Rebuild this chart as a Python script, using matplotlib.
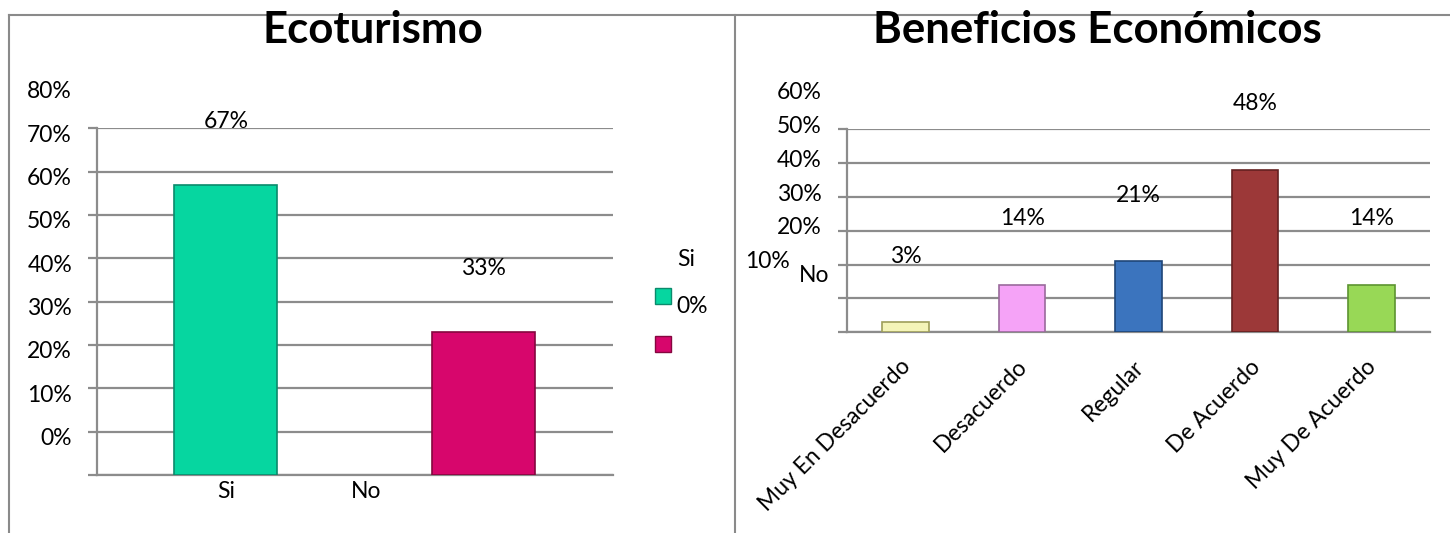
import matplotlib
matplotlib.use("Agg")
import matplotlib.pyplot as plt
import matplotlib.transforms as mtransforms
from matplotlib.patches import Rectangle
from matplotlib.lines import Line2D

# ---------------- data ----------------
eco_title = "Ecoturismo"
eco_categories = ["Si", "No"]
eco_values = [0.67, 0.33]
eco_value_labels = ["67%", "33%"]
eco_ytick_labels = ["0%", "10%", "20%", "30%", "40%", "50%", "60%", "70%", "80%"]
eco_colors = ["#06D6A0", "#D7066C"]
eco_edges = ["#0B8A6C", "#85073F"]

ben_title = "Beneficios Económicos"
ben_categories = ["Muy En Desacuerdo", "Desacuerdo", "Regular", "De Acuerdo", "Muy De Acuerdo"]
ben_values = [0.03, 0.14, 0.21, 0.48, 0.14]
ben_value_labels = ["3%", "14%", "21%", "48%", "14%"]
ben_ytick_labels = ["10%", "20%", "30%", "40%", "50%", "60%"]
ben_colors = ["#F4F4B8", "#F5A3F7", "#3B74BE", "#9C3838", "#98D856"]
ben_edges = ["#9E9E5A", "#9A6A9C", "#1F4678", "#642020", "#5C9430"]

legend_labels = ["Si", "No", "0%"]

# ---------------- layout ----------------
W, H, DPI = 1450, 533, 100
FONT = "Lato"
GRID = "#8C8C8C"
FS = 16.5
TFS = 31.5

plt.rcParams["font.family"] = [FONT, "DejaVu Sans"]

fig = plt.figure(figsize=(W / DPI, H / DPI), dpi=DPI)


def fx(x):
    return x / W


def fy(y):
    return 1 - y / H


def style_axes(ax, ymax):
    ax.set_ylim(0, ymax)
    ax.set_yticks([i / 10 for i in range(int(round(ymax * 10)) + 1)])
    ax.set_yticklabels([])
    ax.yaxis.grid(True, color=GRID, linewidth=1.6)
    ax.set_axisbelow(True)
    for s in ["top", "right"]:
        ax.spines[s].set_visible(False)
    for s in ["left", "bottom"]:
        ax.spines[s].set_color(GRID)
        ax.spines[s].set_linewidth(1.6)
    ax.tick_params(axis="y", length=6.5, width=1.6, color=GRID, direction="out")
    ax.tick_params(axis="x", length=0)


# ---------- left chart ----------
ax1 = fig.add_axes([fx(97), fy(475), fx(612.7 - 97), (475 - 128.3) / H])
style_axes(ax1, 0.8)
ax1.set_xlim(-0.5, len(eco_categories) - 0.5)
x1 = list(range(len(eco_categories)))
ax1.bar(x1, eco_values, width=0.40, color=eco_colors, edgecolor=eco_edges,
        linewidth=1.2, zorder=3)
for xi, v, lab in zip(x1, eco_values, eco_value_labels):
    ax1.annotate(lab, (xi, v), xytext=(0, 63), textcoords="offset pixels",
                 ha="center", va="center", fontsize=FS)
# x labels displaced as in the reference
ax1.set_xticks([0, 0.543])
ax1.set_xticklabels(eco_categories, fontsize=FS)
ax1.tick_params(axis="x", pad=4)
# y labels shifted one step as in the reference
for i, lab in enumerate(eco_ytick_labels):
    ax1.annotate(lab, (0, (i + 1) / 10), xycoords=("axes fraction", "data"),
                 xytext=(-25, -7), textcoords="offset pixels",
                 ha="right", va="center", fontsize=FS, annotation_clip=False)

# ---------- right chart ----------
ax2 = fig.add_axes([fx(847.3), fy(332.3), fx(1430 - 847.3), (332.3 - 129) / H])
style_axes(ax2, 0.6)
ax2.set_xlim(-0.5, len(ben_categories) - 0.5)
x2 = list(range(len(ben_categories)))
ax2.bar(x2, ben_values, width=0.40, color=ben_colors, edgecolor=ben_edges,
        linewidth=1.2, zorder=3)
for xi, v, lab in zip(x2, ben_values, ben_value_labels):
    ax2.annotate(lab, (xi, v), xytext=(0, 66), textcoords="offset pixels",
                 ha="center", va="center", fontsize=FS)
ax2.set_xticks(x2)
ax2.set_xticklabels(ben_categories, fontsize=FS, rotation=45, ha="right",
                    rotation_mode="anchor")
ax2.tick_params(axis="x", pad=17)
shift = mtransforms.ScaledTranslation(-6 / DPI, 0, fig.dpi_scale_trans)
for lbl in ax2.get_xticklabels():
    lbl.set_transform(lbl.get_transform() + shift)
for i, lab in enumerate(ben_ytick_labels):
    dx = -57 if i == 0 else -25.6
    ax2.annotate(lab, (0, (i + 2) / 10), xycoords=("axes fraction", "data"),
                 xytext=(dx, 2.7), textcoords="offset pixels",
                 ha="right", va="center", fontsize=FS, annotation_clip=False)

# ---------- legend (displaced as in the reference) ----------
fig.text(fx(686), fy(260), legend_labels[0], ha="center", va="center", fontsize=FS)
fig.text(fx(692.5), fy(306.7), legend_labels[2], ha="center", va="center", fontsize=FS)
fig.text(fx(814.5), fy(275), legend_labels[1], ha="center", va="center", fontsize=FS)
for (y0, c, e) in [(288, eco_colors[0], eco_edges[0]), (336, eco_colors[1], eco_edges[1])]:
    fig.add_artist(Rectangle((fx(655), fy(y0 + 16)), fx(16), 16 / H,
                             facecolor=c, edgecolor=e, linewidth=1.0,
                             transform=fig.transFigure))

# ---------- titles ----------
fig.text(fx(373), fy(43), eco_title, ha="center", va="baseline",
         fontsize=TFS, fontweight="bold")
fig.text(fx(1097), fy(43), ben_title, ha="center", va="baseline",
         fontsize=TFS, fontweight="bold")

# ---------- chart borders ----------
for (xa, ya, xb, yb) in [(9, 15, 1450, 15), (9, 15, 9, 533), (735, 15, 735, 533)]:
    fig.add_artist(Line2D([fx(xa), fx(xb)], [fy(ya), fy(yb)], color="#8A8A8A",
                          linewidth=1.5, transform=fig.transFigure))

fig.savefig("out.png", dpi=DPI)
